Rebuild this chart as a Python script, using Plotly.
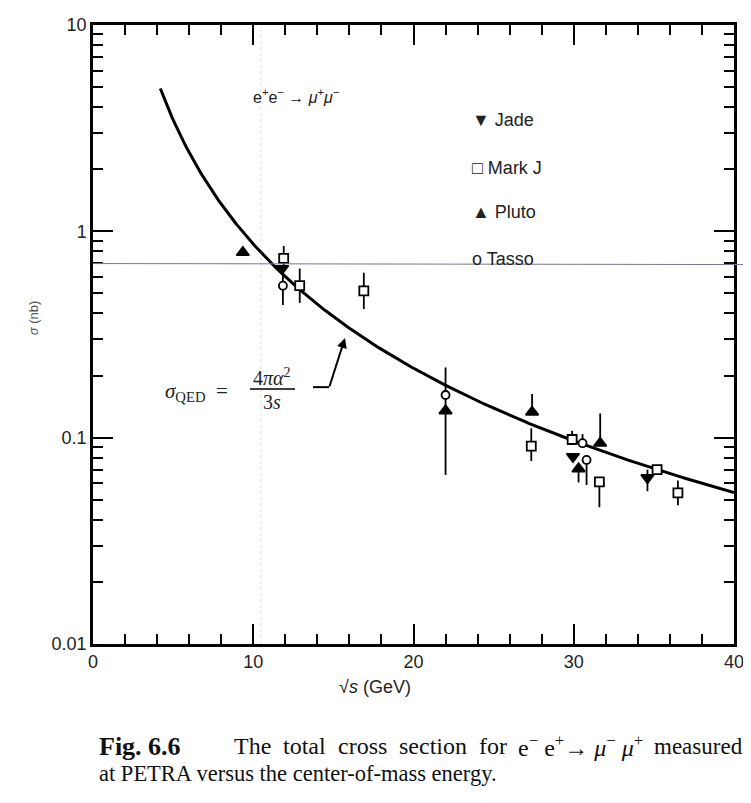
import numpy as np
import plotly.graph_objects as go

# ---------------- data ----------------
jade_x = [11.8, 29.95, 34.6]
jade_y = [0.66, 0.081, 0.064]
jade_up = [0.0, 0.0, 0.006]
jade_dn = [0.0, 0.0, 0.009]

markj_x = [11.9, 12.9, 16.9, 27.35, 29.9, 31.6, 35.2, 36.5]
markj_y = [0.74, 0.545, 0.515, 0.091, 0.098, 0.061, 0.070, 0.054]
markj_up = [0.11, 0.115, 0.115, 0.02, 0.010, 0.0, 0.0, 0.008]
markj_dn = [0.08, 0.095, 0.095, 0.014, 0.0, 0.015, 0.0, 0.007]

pluto_x = [9.35, 22.0, 27.4, 30.3, 31.65]
pluto_y = [0.79, 0.135, 0.133, 0.0707, 0.094]
pluto_up = [0.0, 0.0, 0.030, 0.0, 0.037]
pluto_dn = [0.0, 0.069, 0.0, 0.010, 0.0]

tasso_x = [11.85, 22.0, 30.55, 30.8]
tasso_y = [0.545, 0.161, 0.094, 0.078]
tasso_up = [0.085, 0.058, 0.010, 0.0]
tasso_dn = [0.105, 0.026, 0.0, 0.019]

ALPHA_NB = 86.8          # 4*pi*alpha^2/3 in nb*GeV^2
curve_x = np.linspace(4.2, 40, 300)
curve_y = ALPHA_NB / curve_x**2

x_ticks = [0, 10, 20, 30, 40]
y_ticks = [0.01, 0.1, 1, 10]
y_ticklabels = ["0.01", "0.1", "1", "10"]
y_minor = [m * d for d in (0.01, 0.1, 1) for m in range(2, 10)]

caption_words = ["The", "total", "cross", "section", "for",
                 "e<sup>−</sup> e<sup>+</sup>→ <i>μ</i><sup>−</sup> <i>μ</i><sup>+</sup>", "measured"]
caption_word_x = [232, 281, 336, 397, 477, 516, 652]

# ---------------- layout helpers (page pixel coords) ----------------
OFF = 8                    # default page body margin
W, H = 751 - OFF, 803 - OFF
L, R, T, B = 93, 734, 15, 644


def px(x):
    return (x - L) / (R - L)


def py(y):
    return (B - y) / (B - T)


fig = go.Figure()

# faint scan artefacts
fig.add_shape(type="line", xref="paper", yref="paper", x0=px(261), x1=px(261), y0=0, y1=1,
              line=dict(color="rgba(150,150,150,0.3)", width=1, dash="dot"))
fig.add_shape(type="line", xref="paper", yref="y", x0=0, x1=px(748), y0=0.698, y1=0.69,
              line=dict(color="#7d7398", width=1))

# theory curve
fig.add_trace(go.Scatter(x=curve_x, y=curve_y, mode="lines",
                         line=dict(color="black", width=3), hoverinfo="skip"))


def series(x, y, up, dn, symbol, size, fill):
    fig.add_trace(go.Scatter(
        x=x, y=y, mode="markers",
        error_y=dict(type="data", symmetric=False, array=up, arrayminus=dn,
                     color="black", thickness=1.8, width=0),
        marker=dict(symbol=symbol, size=size,
                    color="black" if fill else "white",
                    line=dict(color="black", width=1.8))))


series(markj_x, markj_y, markj_up, markj_dn, "square", 9, False)
series(tasso_x, tasso_y, tasso_up, tasso_dn, "circle", 8, False)
series(jade_x, jade_y, jade_up, jade_dn, "triangle-down", 11, True)
series(pluto_x, pluto_y, pluto_up, pluto_dn, "triangle-up", 11, True)

ann = []
sans = "Liberation Sans, Arial, sans-serif"
serif = "Liberation Serif, Times New Roman, serif"


def text(x, y, s, size=17, anchor="center", font=sans, color="#222", **kw):
    ann.append(dict(x=px(x), y=py(y), xref="paper", yref="paper", text=s, showarrow=False,
                    xanchor=anchor, yanchor="middle",
                    font=dict(family=font, size=size, color=color), **kw))


# reaction label
text(251, 87, "e<sup>+</sup>e<sup>−</sup> → <i>μ</i><sup>+</sup><i>μ</i><sup>−</sup>", 16, "left")

# legend
text(470, 112, "▼ Jade", 18, "left")
text(470, 160, "□ Mark J", 18, "left")
text(470, 205, "▲ Pluto", 18, "left")
text(470, 253, "o Tasso", 18, "left")

# formula
text(163, 388, "<i>σ</i><sub>QED</sub>  =", 21, "left", font=serif)
text(272, 373, "4<i>πα</i><sup>2</sup>", 20, "center", font=serif)
text(272, 398, "3<i>s</i>", 20, "center", font=serif)
fig.add_shape(type="line", xref="paper", yref="paper", x0=px(250), x1=px(295),
              y0=py(385), y1=py(385), line=dict(color="black", width=1.5))
fig.add_shape(type="line", xref="paper", yref="paper", x0=px(313), x1=px(329),
              y0=py(383), y1=py(383), line=dict(color="black", width=2))
ann.append(dict(x=px(345), y=py(333), xref="paper", yref="paper", ax=-16, ay=50,
                showarrow=True, arrowhead=2, arrowsize=1, arrowwidth=2, arrowcolor="black", text=""))

# axis titles
text(375, 688, "√<i>s</i> (GeV)", 18, "center")
text(33, 313, "<i>σ</i> (nb)", 13, "center", color="#555", textangle=-90)

# caption (justified first line)
text(97, 748, "<b>Fig. 6.6</b>", 26, "left", font=serif, color="#111")
for w, xw in zip(caption_words, caption_word_x):
    text(xw, 748, w, 24 if w != "measured" else 23, "left", font=serif, color="#111")
text(97, 776, "at PETRA versus the center-of-mass energy.", 22.5, "left", font=serif, color="#111")

fig.update_layout(
    width=W, height=H, showlegend=False,
    margin=dict(l=L - OFF, r=W + OFF - R, t=T - OFF, b=H + OFF - B),
    paper_bgcolor="white", plot_bgcolor="white",
    annotations=ann,
    xaxis=dict(range=[0, 40], tickvals=x_ticks, ticks="inside", ticklen=20, tickwidth=2,
               tickcolor="black", showline=True, linecolor="black", linewidth=2.5,
               mirror="allticks", showgrid=False, zeroline=False,
               minor=dict(dtick=2, ticks="inside", ticklen=10, tickwidth=2, tickcolor="black"),
               tickfont=dict(family=sans, size=18, color="#222")),
    yaxis=dict(type="log", range=[-2, 1], tickvals=y_ticks, ticktext=y_ticklabels,
               ticks="inside", ticklen=20, tickwidth=2, tickcolor="black",
               showline=True, linecolor="black", linewidth=2.5, mirror="allticks",
               showgrid=False, zeroline=False,
               minor=dict(tickvals=y_minor, ticks="inside", ticklen=10, tickwidth=2,
                          tickcolor="black"),
               tickfont=dict(family=sans, size=18, color="#222")),
)

fig.write_html("out.html")
